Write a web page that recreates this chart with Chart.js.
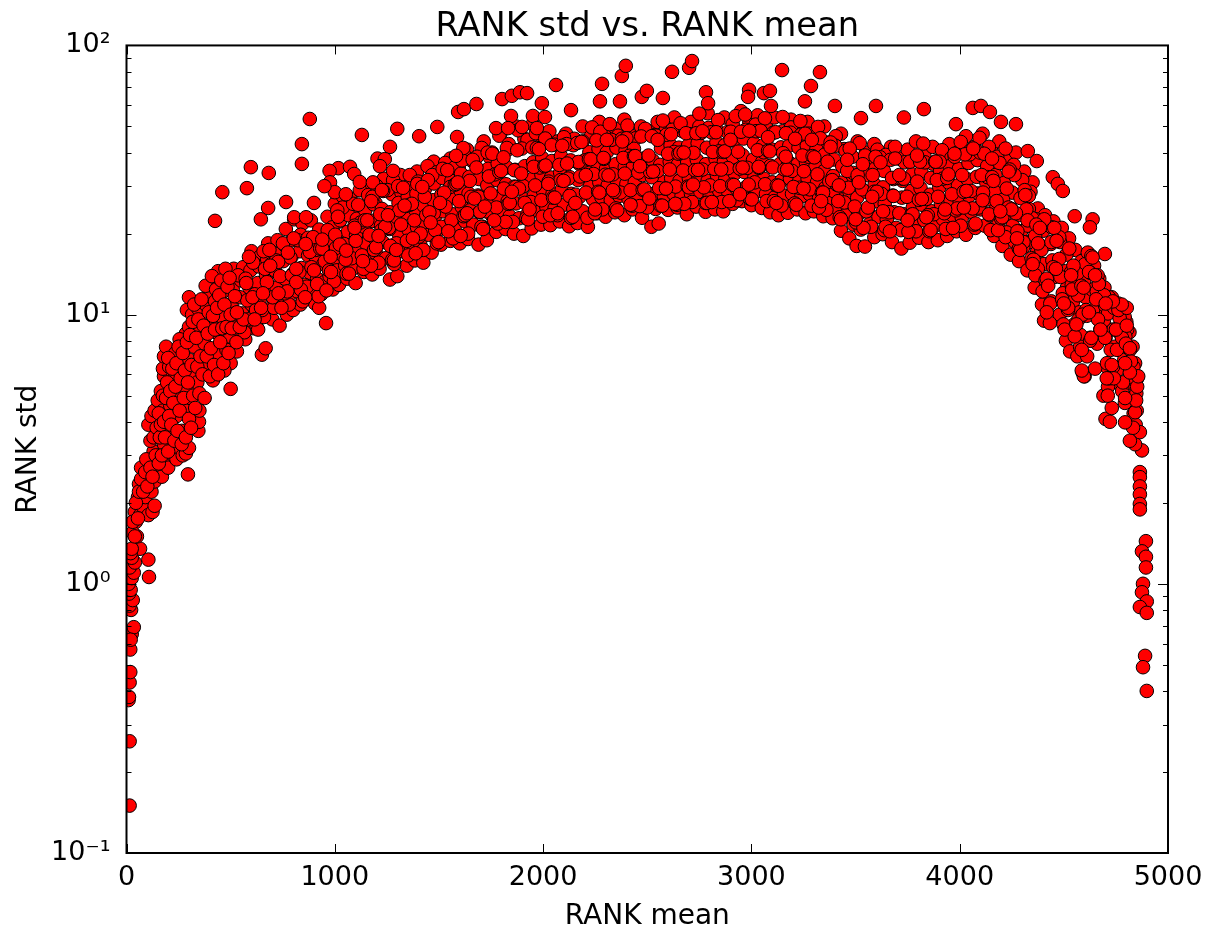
<!DOCTYPE html>
<html>
<head>
<meta charset="utf-8">
<title>RANK std vs. RANK mean</title>
<script src="https://cdn.jsdelivr.net/npm/chart.js@4"></script>
<style>
    html, body { margin: 0; padding: 0; background: #fff; }
    canvas { display: block; }
</style>
</head>
<body>
<canvas id="rankChart" width="1210" height="928"></canvas>
<script>
// Values, one pass across the band at a time
const meanLow = [500,530,570,610,650,668,700,735,770,800,
    835,870,905,925,958,990,1020,1060,1100,1140,
    1180,1215,1265,1300,1345,1385,1425,1465,1510,1555,
    1600,1640,1690,1730,1775,1820,1860,1905,1945,1990,
    2035,2080,2125,2165,2215,2260,2300,2345,2390,2430,
    2475,2520,2555,2600,2645,2690,2735,2780,2825,2865,
    2910,2955,3000,3050,3090,3130,3175,3220,3260,3300,
    3345,3390,3430,3470,3505,3545,3590,3630,3675,3720,
    3760,3805,3850,3895,3940,3985,4030,4075,4120,4165,
    4205,4245,4285,4325,4360,4395,4405,4440,4480,4510,
    4530,4565,4590,4600,4625,4660,4690,4700,4735,4780];
const stdLow = [6.6,7.3,8.1,8.9,7.1,7.5,9.6,9.1,10.0,10.4,
    10.9,11.6,11.0,10.6,9.3,12.4,12.9,13.6,13.1,14.4,
    14.1,14.8,13.5,13.9,15.2,15.9,15.6,17.0,18.2,18.8,
    18.4,19.1,18.2,18.9,20.3,20.8,20.0,19.6,20.9,21.6,
    21.5,22.2,21.3,21.9,21.2,23.8,23.1,24.0,23.4,24.6,
    22.9,21.2,21.8,24.5,25.0,23.6,25.2,24.1,24.6,24.2,
    25.8,26.4,25.5,24.9,24.0,23.4,23.9,24.6,23.8,24.2,
    23.2,22.8,20.5,19.2,18.0,17.9,19.4,19.9,18.6,17.6,
    18.5,19.3,18.6,18.9,19.6,20.4,19.8,21.0,21.4,19.6,
    18.0,16.7,15.8,14.6,12.6,10.9,9.5,11.2,10.0,8.0,
    7.3,7.0,6.1,5.9,8.2,7.8,5.0,4.1,5.6,5.2];

const meanLower = [500,540,585,625,660,705,745,785,820,855,
    895,935,975,1010,1050,1085,1125,1165,1200,1245,
    1285,1325,1365,1410,1450,1490,1535,1575,1625,1665,
    1710,1755,1800,1840,1885,1925,1970,2015,2055,2100,
    2145,2190,2240,2280,2325,2365,2410,2450,2495,2540,
    2580,2625,2665,2710,2755,2800,2845,2890,2930,2975,
    3025,3070,3110,3155,3195,3240,3280,3325,3365,3410,
    3450,3490,3525,3570,3610,3650,3695,3740,3785,3830,
    3875,3920,3965,4010,4055,4100,4145,4185,4225,4265,
    4305,4345,4375,4415,4455,4495,4520,4550,4580,4610,
    4640,4675,4705,4725,4755,4790,4810,4825,4835,4845];
const stdLower = [7.8,8.6,9.6,9.0,9.8,10.9,11.4,11.9,12.2,12.9,
    12.6,11.9,13.9,14.6,15.2,14.8,16.1,15.7,16.8,16.2,
    15.4,17.2,17.9,18.3,19.8,20.4,21.3,20.9,22.2,21.6,
    21.2,23.3,24.1,23.2,22.8,23.6,24.4,25.2,24.8,25.6,
    24.7,24.2,26.8,27.3,26.6,27.6,26.9,27.3,25.1,24.7,
    27.5,28.2,27.7,28.1,28.6,27.6,28.9,28.2,29.3,29.8,
    28.7,28.1,27.2,27.7,28.1,27.5,28.0,27.2,26.0,24.9,
    23.4,21.6,20.7,21.8,23.1,22.6,21.0,20.6,21.9,22.4,
    21.2,22.6,23.4,22.9,24.1,24.6,23.4,21.6,20.2,18.6,
    17.8,16.2,14.8,13.2,13.8,12.0,10.4,9.2,8.4,9.9,
    10.4,8.8,6.4,7.4,6.2,6.8,5.6,4.8,4.3,3.9];

const meanMiddle = [515,555,600,640,680,720,760,800,840,880,
    915,950,995,1030,1070,1110,1150,1190,1230,1270,
    1310,1355,1395,1435,1480,1520,1565,1610,1650,1695,
    1740,1785,1830,1870,1915,1955,2000,2045,2090,2135,
    2175,2225,2270,2310,2355,2400,2440,2485,2530,2570,
    2615,2655,2700,2745,2790,2835,2875,2920,2965,3015,
    3060,3100,3145,3185,3230,3270,3315,3355,3400,3440,
    3480,3515,3560,3600,3640,3685,3730,3775,3820,3865,
    3910,3955,4000,4045,4090,4135,4175,4215,4255,4295,
    4335,4370,4405,4445,4485,4515,4545,4575,4605,4635,
    4665,4700,4720,4745,4775,4800,4815,4830,4840,4850];
const stdMiddle = [9.2,10.1,10.9,11.4,12.1,12.6,13.6,14.2,14.9,14.3,
    13.6,13.2,15.9,16.8,17.6,17.1,18.4,19.3,18.6,18.0,
    19.6,20.6,21.1,21.9,23.1,24.2,23.6,25.1,24.4,24.0,
    26.2,27.4,26.4,25.9,26.8,27.6,28.7,28.0,29.2,28.1,
    27.4,30.2,31.0,30.2,31.4,30.6,31.0,28.6,28.1,31.2,
    32.1,31.4,32.0,32.6,31.4,32.9,32.1,33.4,33.9,32.6,
    32.0,31.0,31.5,32.0,31.4,31.9,31.0,29.6,28.4,26.8,
    24.6,23.6,24.8,26.4,25.8,24.0,23.6,25.0,25.6,24.2,
    25.8,26.8,26.2,27.6,28.2,26.8,24.8,23.2,21.4,20.4,
    18.6,17.0,15.4,15.9,14.0,12.6,11.2,10.2,11.6,12.4,
    10.6,8.2,8.8,7.6,8.4,7.2,6.6,5.8,5.0,4.4];

const meanUpper = [505,545,590,630,670,712,752,792,832,872,
    910,945,985,1022,1062,1102,1142,1182,1222,1262,
    1302,1345,1388,1428,1472,1512,1558,1602,1642,1688,
    1732,1778,1822,1862,1908,1948,1992,2038,2082,2128,
    2168,2218,2262,2302,2348,2392,2432,2478,2522,2562,
    2608,2648,2692,2738,2782,2828,2868,2912,2958,3008,
    3052,3092,3138,3178,3222,3262,3308,3348,3392,3432,
    3472,3508,3552,3592,3632,3678,3722,3768,3812,3858,
    3902,3948,3992,4038,4082,4128,4168,4208,4248,4288,
    4328,4362,4398,4438,4478,4508,4538,4568,4598,4628,
    4658,4692,4712,4738,4768,4795,4808,4822,4838,4848];
const stdUpper = [10.8,11.6,12.6,13.1,14.0,14.6,15.8,16.4,17.2,16.6,
    15.8,15.4,18.3,19.4,20.3,19.7,21.2,22.3,21.4,20.8,
    22.6,23.8,24.4,25.3,26.6,27.9,27.2,29.0,28.2,27.7,
    30.2,31.6,30.5,29.9,30.9,31.9,33.1,32.3,33.7,32.4,
    31.6,34.8,35.8,34.8,36.2,35.3,35.8,33.0,32.4,36.0,
    37.0,36.2,36.9,37.6,36.2,37.9,37.0,38.5,39.1,37.6,
    36.9,35.7,36.3,36.9,36.2,36.8,35.7,34.1,32.7,30.9,
    28.4,27.2,28.6,30.4,29.7,27.7,27.2,28.8,29.5,27.9,
    29.7,30.9,30.2,31.8,32.5,30.9,28.6,26.7,24.7,23.5,
    21.4,19.6,17.8,18.3,16.1,14.5,12.9,11.8,13.4,14.3,
    12.2,9.5,10.1,8.8,9.7,8.3,7.6,6.7,5.8,5.1];

const meanHigh = [510,550,595,635,675,716,756,796,836,876,
    912,948,988,1026,1066,1106,1146,1186,1226,1266,
    1306,1350,1392,1432,1476,1516,1560,1606,1646,1692,
    1736,1782,1826,1866,1912,1952,1996,2042,2086,2132,
    2172,2222,2266,2306,2352,2396,2436,2482,2526,2566,
    2612,2652,2696,2742,2786,2832,2872,2916,2962,3012,
    3056,3096,3142,3182,3226,3266,3312,3352,3396,3436,
    3476,3512,3556,3596,3636,3682,3726,3772,3816,3862,
    3906,3952,3996,4042,4086,4132,4172,4212,4252,4292,
    4332,4366,4402,4442,4482,4512,4542,4572,4602,4632,
    4662,4698,4716,4742,4772,4792,4804,4818,4834,4844];
const stdHigh = [12.4,13.4,14.6,15.1,16.1,16.8,18.2,18.9,19.8,19.1,
    18.2,17.8,21.1,22.4,23.4,22.7,24.4,25.7,24.7,24.0,
    26.0,27.4,28.1,29.2,30.7,32.2,31.4,33.4,32.5,31.9,
    34.8,36.4,35.2,34.5,35.6,36.8,38.2,37.2,38.8,37.4,
    36.4,40.1,41.3,40.1,41.7,40.7,41.3,38.0,37.4,41.5,
    42.6,41.7,42.5,43.3,41.7,43.7,42.6,44.4,45.1,43.3,
    42.5,41.1,41.8,42.5,41.7,42.4,41.1,39.3,37.7,35.6,
    32.7,31.4,33.0,35.0,34.2,31.9,31.4,33.2,34.0,32.2,
    34.2,35.6,34.8,36.6,37.5,35.6,33.0,30.8,28.4,27.1,
    24.7,22.6,20.5,21.1,18.6,16.7,14.9,13.6,15.4,16.5,
    14.0,10.8,11.6,10.2,9.2,9.8,8.8,7.4,6.4,5.4];

const meanTop = [515,560,600,640,680,725,765,805,845,885,
    925,965,1000,1040,1080,1120,1160,1200,1240,1280,
    1320,1360,1400,1445,1490,1530,1575,1620,1660,1705,
    1745,1790,1835,1880,1925,1965,2010,2055,2100,2145,
    2190,2235,2275,2320,2360,2405,2445,2490,2535,2575,
    2620,2660,2705,2750,2795,2840,2885,2925,2970,3020,
    3065,3105,3150,3190,3235,3275,3320,3360,3405,3445,
    3485,3520,3565,3605,3645,3690,3735,3780,3825,3870,
    3915,3960,4005,4050,4095,4140,4180,4220,4260,4300,
    4340,4375,4410,4450,4490,4525,4555,4585,4615,4645,
    4670,4695,4730,4760,4785,4800,4815,4830,4842,4852];
const stdTop = [14.8,15.0,17.2,16.4,18.4,18.9,20.8,22.6,21.8,22.4,
    20.7,23.1,25.8,27.4,24.6,29.0,27.8,30.1,29.0,31.6,
    28.4,33.0,31.2,35.6,33.8,36.6,35.2,39.4,37.2,41.6,
    38.4,46.2,43.0,48.4,44.6,47.2,45.1,42.8,45.6,42.6,
    44.0,49.6,47.8,51.0,46.2,50.4,45.2,49.0,46.4,52.6,
    48.6,51.4,46.8,55.8,49.4,52.8,47.6,54.6,55.4,50.8,
    53.6,47.4,54.2,49.6,52.4,47.0,49.8,43.6,46.0,41.2,
    38.6,43.4,37.4,41.0,39.2,42.0,36.8,37.6,43.2,36.4,
    40.8,38.2,43.8,40.6,45.4,42.0,38.6,41.4,36.0,31.6,
    28.6,24.8,23.4,22.2,21.0,19.2,17.4,15.8,17.0,15.2,
    13.6,12.6,11.6,11.0,10.2,9.4,8.6,7.6,6.6,5.8];

// Upper rim of the band, it is thick and uneven from 1000 to 4300
const meanRim = [1010,1030,1075,1115,1155,1195,1235,1275,1315,1355,
    1395,1435,1475,1515,1555,1595,1635,1675,1715,1755,
    1795,1830,1870,1910,1950,1990,2030,2070,2110,2150,
    2190,2230,2270,2310,2350,2390,2430,2470,2510,2550,
    2590,2630,2670,2710,2750,2790,2830,2870,2910,2950,
    2990,3030,3070,3110,3150,3190,3230,3270,3310,3350,
    3390,3430,3470,3510,3550,3590,3630,3670,3710,3750,
    3790,3830,3870,3910,3950,3990,4030,4070,4110,4150,
    4190,4230,4270,4310,4350];
const stdRim = [22,25,27,25,30,26,32,28,33,30,
    34,31,37,33,38,35,41,38,44,40,
    47,41,50,45,51,46,48,44,47,45,
    50,46,52,47,49,53,46,50,48,52,
    49,54,48,52,50,56,49,54,51,57,
    52,55,50,54,48,53,50,52,47,50,
    44,47,41,44,40,43,39,42,38,41,
    44,39,42,38,43,40,46,42,47,41,
    44,38,40,34,31];

// Passes that jump up and down the band, they fill the gaps
const meanFillA = [522,566,608,651,694,737,780,823,866,909,
    952,996,1038,1081,1124,1167,1210,1253,1296,1339,
    1382,1425,1468,1511,1554,1597,1640,1683,1726,1769,
    1812,1855,1898,1941,1984,2027,2070,2113,2156,2199,
    2242,2285,2328,2371,2414,2457,2500,2543,2586,2629,
    2672,2715,2758,2801,2844,2887,2930,2973,3016,3059,
    3102,3145,3188,3231,3274,3317,3360,3403,3446,3489,
    3532,3575,3618,3661,3704,3747,3790,3833,3876,3919,
    3962,4005,4048,4091,4134,4177,4220,4263,4306,4349,
    4392,4435,4478,4521,4564,4607,4650,4693,4736,4779];
const stdFillA = [10.1,8.6,15.6,10.4,15.4,13.9,10.9,18.9,12.7,17.4,
    15.8,13.3,25,16.2,22,19.8,15.6,29,18.4,25.3,
    22.4,17.4,33,21.2,29.8,26.4,20,38.6,24.2,33.2,
    29.4,22.1,41.4,26.2,35.2,31.2,23.4,43,27.9,37.4,
    33.3,24.6,44.6,28.4,38.9,33.7,25,46.2,29.4,40.2,
    34.3,26.2,47.3,30.2,40.4,35,26.6,48.6,31,40.1,
    35.2,25.4,47.4,29.6,38.6,33.2,24.5,42.4,26.1,33.6,
    29.2,21.2,38.4,24,32.2,27.4,20.4,36.8,23.6,32,
    28,21.4,39.4,25,32.4,26.4,19.4,33,18.6,22.8,
    17.4,11,19.4,10.6,14.2,10.4,6.3,11.8,6.4,8.2];

const meanFillB = [536,580,622,665,708,751,794,837,880,922,
    966,1006,1052,1095,1138,1181,1224,1267,1310,1353,
    1396,1439,1482,1525,1568,1611,1654,1697,1740,1783,
    1826,1869,1912,1955,1998,2041,2084,2127,2170,2213,
    2256,2299,2342,2385,2428,2471,2514,2557,2600,2643,
    2686,2729,2772,2815,2858,2901,2944,2987,3030,3073,
    3116,3159,3202,3245,3288,3331,3374,3417,3460,3503,
    3546,3589,3632,3675,3718,3761,3804,3847,3890,3933,
    3976,4019,4062,4105,4148,4191,4234,4277,4320,4363,
    4406,4449,4492,4535,4578,4621,4664,4707,4750,4793];
const stdFillB = [14,11.3,10.4,14.8,10.6,18.4,14,12.4,17.1,11.7,
    20.6,17.7,16,21.4,14.8,27.4,20.6,18,24.4,16.6,
    30.6,23.4,20.6,28.4,19.2,37.4,27.4,24.1,32.6,21.8,
    41.6,29.8,26,35.4,23.1,42.6,31.6,27.6,36.9,22.9,
    44.4,33.1,28.6,38.2,25.4,45.9,33.9,29.5,39.6,25.6,
    47.2,34.4,29.7,40.2,26.2,47.8,34.9,30.4,40.8,26.4,
    47.6,34.6,29.8,39,25.4,45.2,31.2,26.4,34.2,22,
    39,28.6,24.2,32.2,20.6,37,26.7,23.4,31.6,20.8,
    38.6,28.6,24.8,33,20.6,36.6,25,20.4,24.6,14,
    22.6,15,11.4,14.4,7.6,14.4,9.6,6.6,8.8,4.7];

const meanFillC = [528,572,616,658,702,744,787,830,872,915,
    960,1002,1044,1088,1130,1174,1218,1260,1304,1346,
    1388,1432,1475,1518,1560,1604,1648,1690,1734,1776,
    1820,1862,1905,1948,1992,2034,2078,2120,2164,2206,
    2248,2292,2335,2378,2420,2464,2506,2550,2592,2636,
    2678,2722,2765,2808,2850,2894,2936,2980,3022,3066,
    3108,3152,3195,3238,3280,3324,3366,3410,3452,3496,
    3538,3582,3625,3668,3710,3754,3796,3840,3882,3926,
    3968,4012,4055,4098,4140,4184,4226,4270,4312,4355,
    4398,4440,4484,4526,4570,4612,4655,4698,4741,4784];
const stdFillC = [7.9,13.6,11.9,17.2,11.6,10.6,16.3,14.4,19.3,13,
    12.3,19.8,18.3,25.8,16.6,15.2,23.6,21,30,18.8,
    16.9,27.4,23.8,34.8,22.4,19.6,31.4,27.4,40,25,
    22.1,34.4,30,41.8,26.6,23.4,36,32,43.4,28.4,
    23.8,37.9,33.2,45,29,25.3,39,34.2,46.6,29.9,
    25.8,39.9,34.6,47.6,30,26.4,40.3,35.1,48,30.5,
    26.4,39.8,34.2,46.6,29.2,25,37,30.4,40.6,25.2,
    21,33,28.1,37.6,23.8,20.3,31.2,26.9,37,23.8,
    21,33,28.8,40,23.6,20.6,29.4,23.8,29,16,
    12.2,18.6,13.8,17.6,9.6,7,11.4,8.2,10.6,5.6];

const meanFillD = [544,588,632,674,718,760,803,846,888,930,
    972,1012,1056,1100,1144,1188,1232,1276,1318,1360,
    1404,1447,1490,1532,1576,1618,1662,1704,1748,1790,
    1834,1876,1920,1962,2006,2048,2092,2134,2178,2220,
    2264,2306,2350,2392,2436,2478,2522,2564,2608,2650,
    2694,2736,2780,2822,2866,2908,2950,2994,3036,3080,
    3122,3166,3208,3252,3294,3338,3380,3424,3466,3510,
    3552,3596,3638,3682,3724,3768,3810,3854,3896,3940,
    3982,4026,4070,4112,4156,4198,4240,4284,4326,4368,
    4412,4454,4498,4540,4584,4626,4668,4712,4755,4798];
const stdFillD = [9,16.4,8.8,13.2,15.9,12,19.2,11.2,15,17.6,
    14.6,24.4,14.2,18.8,22.4,17.4,28.8,16,21.6,25.6,
    19.5,31.6,18.4,25.2,30.4,23.2,37.6,21.2,28.2,33.8,
    25.8,40.8,22.8,30.2,35.6,27.2,42.4,22.9,32.6,37.8,
    28.6,44.6,24.8,33.4,38.8,29.1,46,25.4,34.6,39.6,
    29.9,47.2,26,34.8,40.2,30.4,47.8,26.9,35.1,40.6,
    30.2,47.2,25.9,34.1,38.8,28.4,43.6,23,29.6,33,
    24.2,38.6,20.6,27.6,32,23.4,37,20.4,27.4,32.2,
    24.4,39.4,21.6,28.4,32.4,22.8,34.6,17.6,22.4,21.6,
    13.4,21,9.2,12.4,12.8,8,13,5.4,7.4,7.8];

const meanFillE = [520,562,605,646,686,728,772,815,858,896,
    940,982,1024,1068,1112,1156,1198,1242,1284,1328,
    1370,1412,1454,1498,1540,1584,1626,1670,1712,1756,
    1798,1840,1884,1928,1970,2012,2056,2098,2142,2184,
    2228,2270,2314,2356,2400,2442,2486,2528,2572,2614,
    2658,2700,2744,2786,2830,2872,2916,2958,3002,3044,
    3088,3130,3172,3216,3258,3302,3344,3388,3430,3472,
    3516,3560,3602,3644,3690,3732,3774,3818,3860,3904,
    3946,3988,4032,4076,4118,4162,4204,4248,4290,4332,
    4376,4418,4462,4504,4546,4590,4632,4676,4718,4762];
const stdFillE = [11.7,9.6,11.6,10.6,17.4,15.7,12.2,14.8,11.6,19.4,
    17.6,14.4,18.2,14.2,25.6,22.4,17.8,21.2,15.9,29.6,
    25.8,20,24,18.6,34.4,30.6,23.4,27,20.8,39.6,
    34.2,26,29.4,22.6,41.6,35.8,27.2,31.4,23.1,43.8,
    37.8,28.4,32.9,24.4,45.2,38.8,29.2,34,25.4,46.8,
    40,29.7,34.5,26,47.6,40.4,30.3,35.2,26.8,48.2,
    40.4,30.1,34.6,25.6,47,38.4,28.4,31.6,22.6,41.4,
    31,25,28.6,21.2,38,32,23.6,26.9,20.6,37,
    33.2,24.8,28.8,21.8,39.6,31.4,23,24.6,17.4,27.6,
    18.4,13.6,14.8,8.8,15.2,10,8.2,8.8,5.8,10.4];

const meanMixed = [530,575,615,655,690,730,775,815,860,900,
    940,980,1015,1055,1095,1135,1175,1210,1255,1295,
    1335,1375,1420,1460,1505,1545,1590,1635,1680,1720,
    1765,1810,1850,1895,1935,1980,2025,2070,2115,2155,
    2205,2250,2290,2335,2380,2420,2465,2510,2550,2590,
    2635,2675,2720,2765,2810,2855,2900,2945,2990,3035,
    3080,3120,3165,3210,3250,3290,3335,3380,3420,3460,
    3500,3535,3580,3620,3665,3710,3750,3795,3840,3885,
    3930,3975,4020,4065,4110,4155,4195,4235,4275,4315,
    4350,4385,4425,4465,4500,4535,4560,4595,4620,4650];
const stdMixed = [10.2,13.1,9.6,12.0,15.2,12.0,17.0,13.2,18.3,14.6,
    19.0,16.4,23.1,17.3,21.0,15.8,26.4,19.6,23.4,17.4,
    25.4,19.2,29.8,22.0,26.0,20.4,31.0,23.8,35.2,25.2,
    22.4,38.4,28.6,33.4,24.6,41.2,30.6,23.8,36.4,26.0,
    33.0,24.6,38.2,29.0,44.0,25.6,35.6,27.0,44.6,29.4,
    25.8,40.0,30.4,48.0,26.2,34.6,44.6,28.0,48.2,35.4,
    45.6,26.0,38.6,45.0,29.4,44.6,26.4,42.0,30.2,37.6,
    22.6,36.2,27.4,36.8,20.4,33.0,22.4,39.0,23.0,37.0,
    24.6,39.6,25.0,41.4,26.6,38.0,24.2,34.0,19.2,27.8,
    15.4,21.0,12.8,18.8,11.0,14.0,9.2,12.6,10.2,14.0];

// Steep rise on the left side
const meanLeft = [15,15,10,12,15,18,18,25,35,20,
    22,15,30,12,20,10,25,35,15,40,
    25,108,105,65,50,45,20,30,40,65,
    75,55,90,105,125,135,120,60,85,100,
    70,110,135,150,170,185,200,130,115,105,
    120,135,150,160,180,195,150,175,165,210,
    225,240,255,270,285,295,300,210,240,265,
    285,220,250,180,175,180,190,205,235,260,
    265,290,305,315,345,348,350,340,325,300,
    285,255,235,300,290,315,300,345,350,375,
    395,415,385,405,400,425,420,445,460,465,
    440,430,470,480,500,495];
const stdLeft = [0.15,0.26,0.37,0.38,0.43,0.47,0.57,0.65,0.69,0.62,
    0.8,0.83,0.87,0.92,0.95,1.0,1.05,1.1,1.15,1.2,
    1.25,1.06,1.23,1.35,1.5,1.7,1.3,1.55,1.85,1.8,
    1.95,2.1,2.1,1.8,1.85,1.95,2.2,2.35,2.4,2.6,
    2.7,2.9,2.4,2.6,2.5,2.8,2.7,3.1,3.4,3.9,
    4.2,4.4,3.6,3.0,3.3,3.9,4.8,4.4,5.2,3.5,
    3.0,2.9,3.2,3.0,3.05,2.55,3.2,4.6,4.2,3.7,
    4.5,5.5,5.1,5.9,6.3,7.0,7.6,6.4,6.0,6.7,
    5.6,5.2,4.9,6.1,3.7,4.0,4.4,5.6,7.6,6.8,
    8.5,8.1,7.2,9.0,10.4,10.0,11.6,10.5,8.6,7.8,
    6.6,5.7,10.8,9.2,12.0,11.2,13.6,8.4,9.8,12.2,
    14.5,7.2,6.2,7.4,5.3,8.3];

const meanLeftFill = [25,40,30,45,55,60,70,80,90,95,
    100,115,125,130,140,145,155,155,160,165,
    170,175,180,185,190,195,200,200,205,210,
    215,220,225,230,235,240,245,250,255,260,
    265,270,275,280,285,290,295,300,305,310,
    312,318,320,325,330,335,340,345,350,355,
    360,365,370,375,380,385,390,395,400,405,
    410,415,420,425,430,435,440,445,450,455,
    460,465,470,475,480,485,490,495,500,505];
const stdLeftFill = [1.35,1.5,1.7,2.0,1.75,2.2,2.45,2.2,2.6,2.9,
    2.3,2.7,2.5,3.5,3.0,3.8,2.8,4.3,3.5,3.9,
    3.0,5.0,4.0,3.5,4.9,5.6,3.1,6.9,4.2,5.2,
    3.9,6.3,4.7,3.4,5.4,6.6,3.7,7.6,4.4,5.8,
    3.3,7.2,4.9,6.2,3.5,7.9,5.6,4.1,8.4,3.8,
    6.5,9.4,5.0,10.9,4.5,8.2,6.4,9.6,5.1,7.0,
    11.4,6.0,9.1,4.9,12.8,7.0,8.5,10.2,5.9,7.5,
    13.9,9.9,6.5,8.8,12.4,10.6,6.0,11.8,7.9,13.4,
    8.9,6.6,10.9,14.8,9.0,12.7,7.2,13.7,10.0,8.9];

// Right hand tail, falling to the bottom
const meanTail = [4875,4842,4865,4817,4832,4842,4794,4847,4794,4852,
    4857,4817,4721,4730,4711,4740,4706,4730,4596,4586,
    4586,4552,4802,4778,4735,4701,4802,4817,4794,4433,
    4418,4865,4865,4865,4865,4865,4865,4894,4875,4894,
    4894,4880,4875,4898,4865,4898,4890,4880,4898];
const stdTail = [3.13,3.3,3.66,3.4,3.8,4.34,3.98,4.8,4.9,5.4,
    5.9,6.1,4.0,4.5,5.0,5.8,5.8,6.5,5.9,6.2,
    7.4,8.3,10.6,10.9,11.2,11.0,9.1,7.5,6.6,9.3,
    10.2,2.6,2.49,2.3,2.15,1.98,1.89,1.44,1.32,1.26,
    1.15,1.0,0.93,0.86,0.82,0.78,0.54,0.49,0.4];

// Points standing clear above the band
const meanOutlier = [425,460,578,597,683,645,680,766,805,862,
    900,842,842,880,1130,1300,1265,1205,1240,1217,
    1280,1017,975,1073,1093,1120,1183,1226,977,1000,
    1053,950,1405,1492,1587,1617,1582,1592,1620,1680,
    1803,1850,1889,1923,2062,1994,2134,1846,1951,2009,
    1774,1832,1899,1970,2273,2283,2378,2397,2369,2474,
    2498,2575,2619,2701,2715,2782,2792,2989,2984,3060,
    3089,3147,3094,3329,3286,3257,3401,3526,3598,3732,
    3828,3982,4063,4102,4145,4198,4270,4327,4370,4447,
    4471,4495,4552,4638,4625,4697,4638];
const stdOutlier = [22.3,28.5,29.5,35.3,33.6,22.6,24.9,26.2,23,23,
    26,36.3,43,53.3,46.5,49,42,38,37.8,35.6,
    34.2,35,34.2,35.4,33.3,31.1,31,29,31,28.5,
    28,30,46,49.8,45.7,41.6,38.9,56.6,58,60.6,
    63.2,65,67,66.5,71.3,61,57.5,54.7,54.7,54.2,
    49.3,49.3,49.8,49.3,62,72,77,84,62,64.4,
    67.8,63.8,79.8,82.6,87.5,67,61,68.4,64.4,66.5,
    67.8,81,59.6,79.6,70.7,62,59.6,53.7,59.6,54,
    58,51,58.6,59.6,56.6,52,51,40.5,37.2,32.4,
    30.6,28.8,23.2,22.6,21.1,16.8,16.3];

const xTickValues = [0, 1000, 2000, 3000, 4000, 5000];
const yMajorValues = [0.1, 1, 10, 100];
const yMinorValues = [0.2, 0.3, 0.4, 0.5, 0.6, 0.7, 0.8, 0.9,
    2, 3, 4, 5, 6, 7, 8, 9,
    20, 30, 40, 50, 60, 70, 80, 90];
const yTickLabels = { 0.1: '10⁻¹', 1: '10⁰', 10: '10¹', 100: '10²' };

// Passes in the order they get painted, later ones lie on top
const passes = [
    [meanMiddle, stdMiddle],
    [meanLow, stdLow],
    [meanRim, stdRim],
    [meanTop, stdTop],
    [meanLower, stdLower],
    [meanHigh, stdHigh],
    [meanUpper, stdUpper],
    [meanFillA, stdFillA],
    [meanLeft, stdLeft],
    [meanFillB, stdFillB],
    [meanFillC, stdFillC],
    [meanLeftFill, stdLeftFill],
    [meanFillD, stdFillD],
    [meanFillE, stdFillE],
    [meanTail, stdTail],
    [meanMixed, stdMixed],
    [meanOutlier, stdOutlier]
];
const points = [];
passes.forEach(([means, stds]) => {
    means.forEach((mean, i) => points.push({ x: mean, y: stds[i] }));
});

// Inward ticks on all four sides plus the black frame
const frameAndTicks = {
    id: 'frameAndTicks',
    afterDatasetsDraw(chart) {
        const { ctx, chartArea: area, scales } = chart;
        ctx.save();
        ctx.strokeStyle = '#000';
        ctx.lineWidth = 1;
        ctx.beginPath();
        xTickValues.forEach(v => {
            const x = Math.round(scales.x.getPixelForValue(v)) + 0.5;
            ctx.moveTo(x, area.top);
            ctx.lineTo(x, area.top + 9);
            ctx.moveTo(x, area.bottom);
            ctx.lineTo(x, area.bottom - 9);
        });
        const yTick = (v, len) => {
            const y = Math.round(scales.y.getPixelForValue(v)) + 0.5;
            ctx.moveTo(area.left, y);
            ctx.lineTo(area.left + len, y);
            ctx.moveTo(area.right, y);
            ctx.lineTo(area.right - len, y);
        };
        yMajorValues.forEach(v => yTick(v, 10));
        yMinorValues.forEach(v => yTick(v, 5));
        ctx.stroke();
        ctx.lineWidth = 2;
        ctx.strokeRect(area.left, area.top, area.right - area.left, area.bottom - area.top);
        ctx.restore();
    }
};

const fontFamily = '"DejaVu Sans", sans-serif';

new Chart(document.getElementById('rankChart'), {
    type: 'scatter',
    data: {
        datasets: [{
            data: points,
            backgroundColor: '#ff0000',
            borderColor: '#000',
            borderWidth: 1,
            pointRadius: 6.8,
            clip: 0
        }]
    },
    options: {
        responsive: false,
        animation: false,
        layout: { padding: { right: 42 } },
        plugins: {
            legend: { display: false },
            tooltip: { enabled: false },
            title: {
                display: true,
                fullSize: false,
                text: 'RANK std vs. RANK mean',
                color: '#000',
                font: { family: fontFamily, size: 33.7, weight: 'normal', lineHeight: 1.2 },
                padding: { top: 7, bottom: -2 }
            }
        },
        scales: {
            x: {
                type: 'linear',
                min: 0,
                max: 5000,
                afterFit(scale) {
                    scale.height = 75;
                    // the tick labels should not push the plot edge inwards
                    scale.paddingLeft = 0;
                    scale.paddingRight = 0;
                },
                afterBuildTicks(scale) { scale.ticks = xTickValues.map(value => ({ value })); },
                border: { display: false },
                grid: { display: false, drawTicks: false },
                ticks: {
                    color: '#000',
                    padding: 9,
                    maxRotation: 0,
                    autoSkip: false,
                    font: { family: fontFamily, size: 27 },
                    callback: value => String(value)
                },
                title: {
                    display: true,
                    text: 'RANK mean',
                    color: '#000',
                    padding: { top: 0, bottom: -6 },
                    font: { family: fontFamily, size: 28 }
                }
            },
            y: {
                type: 'logarithmic',
                min: 0.1,
                max: 100,
                afterFit(scale) { scale.width = 126.5; },
                afterBuildTicks(scale) { scale.ticks = yMajorValues.map(value => ({ value })); },
                border: { display: false },
                grid: { display: false, drawTicks: false },
                ticks: {
                    color: '#000',
                    padding: 16,
                    autoSkip: false,
                    font: { family: fontFamily, size: 27 },
                    callback: value => yTickLabels[value] || ''
                },
                title: {
                    display: true,
                    text: 'RANK std',
                    color: '#000',
                    padding: { top: 12, bottom: 0 },
                    font: { family: fontFamily, size: 28 }
                }
            }
        }
    },
    plugins: [frameAndTicks]
});
</script>
</body>
</html>
